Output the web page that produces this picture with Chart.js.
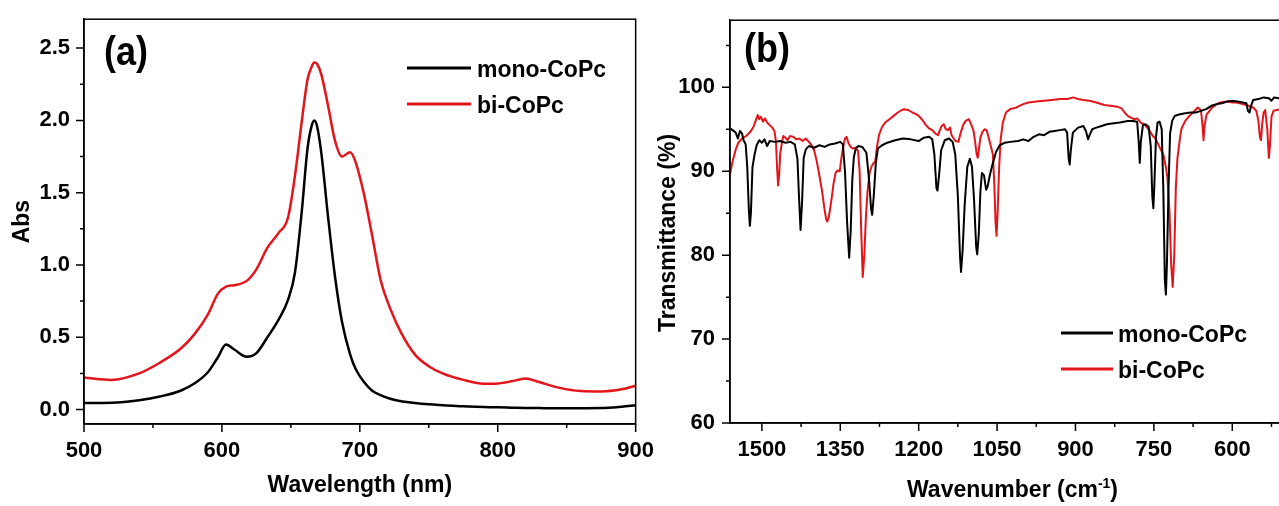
<!DOCTYPE html>
<html>
<head>
<meta charset="utf-8">
<title>mono-CoPc / bi-CoPc spectra</title>
<script src="https://cdn.jsdelivr.net/npm/chart.js"></script>
<style>
  html, body { margin: 0; padding: 0; background: #fff; overflow: hidden; }
  body { width: 1279px; height: 506px; position: relative; }
  #panelA { position: absolute; left: 0; top: 0; }
  #panelB { position: absolute; left: 645px; top: 0; }
</style>
</head>
<body>
<canvas id="panelA" width="660" height="506"></canvas>
<canvas id="panelB" width="680" height="506"></canvas>
<script>
const FONT = '"Liberation Sans", Arial, Helvetica, sans-serif';
const RED = '#e3151b';
const BLACK = '#000000';

// (a) UV-vis absorbance
const uvWavelength = [500, 520, 540, 555, 570, 580, 590, 597, 603, 609, 618, 625, 633, 641, 648, 653, 658, 662, 665, 667, 669, 672, 677, 682, 687, 693, 697, 703, 709, 715, 722, 730, 740, 750, 760, 775, 790, 800, 810, 820, 830, 845, 860, 875, 890, 900];
const uvMono = [0.045, 0.047, 0.065, 0.09, 0.13, 0.18, 0.26, 0.36, 0.45, 0.415, 0.365, 0.39, 0.50, 0.62, 0.76, 0.95, 1.38, 1.80, 1.96, 2.00, 1.96, 1.78, 1.33, 0.92, 0.61, 0.38, 0.28, 0.19, 0.13, 0.10, 0.075, 0.058, 0.045, 0.036, 0.030, 0.022, 0.018, 0.015, 0.013, 0.011, 0.010, 0.009, 0.009, 0.010, 0.020, 0.030];
const uvBi = [0.222, 0.205, 0.25, 0.324, 0.42, 0.52, 0.66, 0.80, 0.85, 0.86, 0.89, 0.97, 1.12, 1.22, 1.33, 1.62, 2.00, 2.28, 2.37, 2.40, 2.39, 2.32, 2.10, 1.86, 1.75, 1.78, 1.71, 1.49, 1.20, 0.90, 0.70, 0.53, 0.38, 0.30, 0.25, 0.205, 0.178, 0.18, 0.195, 0.215, 0.19, 0.15, 0.128, 0.125, 0.14, 0.165];

// (b) FTIR transmittance
const irMonoWavenumber = [1561, 1556, 1550, 1546, 1542, 1538, 1535, 1531, 1528, 1525, 1523, 1521, 1518, 1514, 1510, 1505, 1500, 1495, 1490, 1485, 1475, 1465, 1455, 1445, 1437, 1432, 1429, 1426, 1423, 1420, 1416, 1410, 1400, 1390, 1380, 1370, 1360, 1350, 1345, 1341, 1337, 1333, 1330, 1327, 1324, 1320, 1315, 1308, 1300, 1295, 1291, 1289, 1286, 1282, 1278, 1270, 1260, 1245, 1230, 1215, 1200, 1190, 1180, 1174, 1170, 1166, 1164, 1161, 1157, 1150, 1142, 1135, 1130, 1125, 1121, 1119, 1116, 1112, 1107, 1102, 1098, 1094, 1090, 1088, 1085, 1082, 1079, 1075, 1071, 1068, 1064, 1058, 1052, 1045, 1035, 1025, 1010, 1000, 990, 980, 970, 960, 950, 940, 930, 920, 916, 913, 911, 909, 905, 895, 885, 880, 876, 873, 868, 860, 850, 840, 830, 815, 800, 790, 782, 779, 777, 775, 771, 766, 760, 756, 753, 751, 749, 746, 743, 739, 735, 732, 729, 727, 725, 722, 719, 715, 710, 700, 690, 680, 670, 660, 650, 640, 630, 620, 610, 600, 590, 580, 573, 570, 567, 564, 560, 550, 540, 530, 525, 520, 510, 500, 490, 480];
const irMonoT = [95.1, 94.9, 94.6, 93.9, 94.8, 94.5, 93.7, 93.2, 90.5, 85.5, 83.5, 85.0, 90.5, 92.0, 93.1, 93.7, 93.4, 93.8, 93.0, 93.6, 93.5, 93.6, 93.4, 93.5, 93.2, 91.5, 87.0, 83.0, 86.5, 91.6, 92.6, 93.0, 92.8, 93.1, 92.9, 93.2, 93.3, 93.5, 93.2, 90.0, 84.0, 79.7, 83.0, 89.0, 91.7, 92.8, 93.0, 92.9, 92.2, 89.0, 85.5, 84.8, 87.0, 91.0, 92.7, 93.1, 93.4, 93.7, 93.9, 93.8, 93.6, 94.0, 94.1, 93.8, 92.0, 88.0, 87.7, 89.5, 92.5, 93.7, 93.9, 93.5, 92.0, 87.0, 80.0, 78.0, 80.5, 86.0, 90.5, 91.5, 90.5, 86.5, 81.0, 80.1, 82.5, 87.5, 89.8, 89.5, 87.8, 88.2, 89.5, 91.0, 92.3, 93.1, 93.4, 93.5, 93.6, 93.8, 93.6, 94.1, 94.4, 94.3, 94.7, 94.8, 94.9, 95.0, 94.6, 91.5, 90.8, 92.5, 94.6, 95.2, 95.4, 94.8, 93.8, 94.3, 95.0, 95.2, 95.4, 95.6, 95.7, 95.8, 96.0, 96.0, 95.9, 93.5, 91.0, 93.5, 95.5, 95.6, 95.3, 93.0, 87.0, 85.6, 88.5, 94.0, 95.8, 95.9, 95.0, 88.0, 77.0, 75.3, 79.0, 88.0, 94.5, 96.0, 96.6, 96.8, 96.9, 97.0, 97.0, 97.2, 97.4, 97.8, 98.0, 98.1, 98.3, 98.4, 98.3, 98.2, 98.1, 97.2, 97.0, 97.8, 98.5, 98.6, 98.8, 98.7, 98.4, 98.8, 98.7, 98.6, 98.8, 98.7];
const irBiWavenumber = [1561, 1556, 1550, 1545, 1538, 1530, 1522, 1516, 1512, 1508, 1505, 1502, 1498, 1494, 1490, 1485, 1480, 1476, 1473, 1471, 1469, 1467, 1465, 1462, 1459, 1455, 1451, 1446, 1440, 1434, 1428, 1422, 1416, 1410, 1405, 1400, 1395, 1390, 1385, 1380, 1377, 1375, 1372, 1369, 1366, 1363, 1359, 1355, 1351, 1348, 1345, 1341, 1338, 1334, 1330, 1326, 1320, 1316, 1313, 1310, 1307, 1304, 1301, 1298, 1294, 1290, 1286, 1283, 1280, 1276, 1270, 1264, 1256, 1248, 1240, 1232, 1228, 1220, 1212, 1205, 1200, 1194, 1186, 1180, 1174, 1168, 1163, 1160, 1156, 1152, 1148, 1144, 1140, 1137, 1133, 1129, 1124, 1120, 1115, 1110, 1104, 1099, 1095, 1092, 1089, 1087, 1085, 1082, 1078, 1074, 1070, 1066, 1062, 1058, 1055, 1053, 1051, 1049, 1046, 1043, 1039, 1033, 1025, 1013, 1000, 990, 975, 960, 945, 930, 915, 904, 895, 885, 873, 860, 845, 833, 820, 812, 806, 800, 794, 788, 782, 775, 767, 760, 752, 747, 740, 732, 727, 724, 720, 717, 714, 711, 708, 705, 700, 697, 690, 682, 675, 666, 660, 657, 655, 653, 649, 646, 640, 630, 623, 610, 600, 592, 580, 569, 560, 554, 550, 547, 545, 543, 540, 537, 533, 530, 528, 525, 521, 515, 507, 500, 490, 480];
const irBiT = [89.6, 91.2, 92.6, 93.4, 93.9, 94.2, 94.7, 95.3, 96.0, 96.7, 96.2, 96.5, 95.9, 96.3, 95.8, 95.5, 95.2, 94.8, 93.5, 90.5, 88.3, 89.5, 92.0, 93.3, 94.2, 94.0, 93.7, 94.2, 94.1, 93.8, 93.9, 93.6, 93.9, 93.5, 93.1, 92.5, 91.2, 89.5, 87.7, 85.4, 84.3, 84.0, 84.5, 85.7, 87.0, 88.5, 89.8, 90.1, 90.0, 91.5, 92.7, 93.9, 94.1, 93.3, 92.9, 92.7, 92.8, 92.4, 90.0, 83.0, 77.4, 80.0, 84.5, 87.5, 89.8, 90.6, 91.0, 91.2, 92.8, 94.3, 95.3, 95.8, 96.2, 96.6, 97.0, 97.3, 97.4, 97.3, 97.0, 96.8, 96.6, 96.2, 95.5, 95.1, 94.9, 94.5, 94.3, 94.8, 95.4, 95.6, 95.0, 94.9, 95.2, 94.3, 93.9, 93.6, 93.5, 94.5, 95.5, 96.0, 96.2, 95.5, 94.8, 93.5, 92.0, 91.6, 92.5, 94.0, 94.7, 95.0, 94.9, 94.0, 93.0, 92.0, 88.0, 84.0, 82.3, 85.0, 90.5, 93.9, 95.8, 97.0, 97.4, 97.6, 98.0, 98.2, 98.3, 98.4, 98.5, 98.6, 98.6, 98.8, 98.6, 98.5, 98.4, 98.2, 97.9, 97.8, 97.7, 97.5, 97.0, 96.6, 96.4, 96.2, 96.3, 95.8, 95.5, 95.0, 94.2, 93.9, 93.0, 92.0, 90.5, 89.2, 85.0, 79.0, 76.2, 80.0, 88.0, 91.5, 94.0, 95.1, 96.0, 96.6, 97.0, 97.6, 97.3, 95.5, 93.7, 95.5, 96.8, 97.0, 97.5, 98.0, 98.2, 98.3, 98.2, 98.2, 98.0, 97.8, 97.6, 97.2, 96.0, 94.0, 93.7, 95.5, 97.0, 97.3, 95.0, 91.6, 93.0, 96.5, 97.2, 97.3, 97.4, 97.6, 97.5, 97.6];

// minor tick positions
const uvMinorX = [550, 650, 750, 850];
const uvMinorY = [0.25, 0.75, 1.25, 1.75, 2.25];
const irMinorX = [1425, 1275, 1125, 975, 825, 675, 525];
const irMinorY = [65, 75, 85, 95, 105];

function pts(xs, ys) {
  return xs.map((x, i) => ({ x: x, y: ys[i] }));
}

Chart.defaults.color = '#000';
Chart.defaults.font.family = FONT;

const TITLE_FONT = 'bold 23px ' + FONT;
const SUP_FONT = 'bold 14px ' + FONT;
const MAJOR = 8, MINOR = 4;

// frame, outward ticks, legend, panel tag and axis titles
const panelDecor = {
  id: 'panelDecor',
  afterDraw(chart, args, o) {
    const ctx = chart.ctx;
    const a = chart.chartArea;
    const sx = chart.scales.x, sy = chart.scales.y;
    ctx.save();
    ctx.strokeStyle = '#000';
    ctx.lineWidth = 1.5;
    ctx.strokeRect(a.left, a.top, a.right - a.left, a.bottom - a.top);

    ctx.beginPath();
    const xTick = (v, len) => {
      const p = sx.getPixelForValue(v);
      ctx.moveTo(p, a.bottom);
      ctx.lineTo(p, a.bottom + len);
    };
    const yTick = (v, len) => {
      const p = sy.getPixelForValue(v);
      ctx.moveTo(a.left - len, p);
      ctx.lineTo(a.left, p);
    };
    sx.ticks.forEach(t => xTick(t.value, MAJOR));
    sy.ticks.forEach(t => yTick(t.value, MAJOR));
    o.minorX.forEach(v => xTick(v, MINOR));
    o.minorY.forEach(v => yTick(v, MINOR));
    ctx.stroke();

    // panel tag, slightly condensed
    ctx.fillStyle = '#000';
    ctx.textBaseline = 'alphabetic';
    ctx.textAlign = 'left';
    ctx.save();
    ctx.translate(o.tag.x, o.tag.y);
    ctx.scale(0.9, 1);
    ctx.font = 'bold 40px ' + FONT;
    ctx.fillText(o.tag.text, 0, 0);
    ctx.restore();

    // legend
    ctx.font = 'bold 23px ' + FONT;
    chart.data.datasets.forEach((ds, i) => {
      const ly = o.legend.y + i * o.legend.dy;
      ctx.strokeStyle = ds.borderColor;
      ctx.lineWidth = 3;
      ctx.beginPath();
      ctx.moveTo(o.legend.x0, ly);
      ctx.lineTo(o.legend.x1, ly);
      ctx.stroke();
      ctx.fillText(ds.label, o.legend.x1 + o.legend.gap, ly + 9);
    });

    // x title, pieces may be superscript
    const cx = (a.left + a.right) / 2;
    const widths = o.xTitle.parts.map(p => {
      ctx.font = p.sup ? SUP_FONT : TITLE_FONT;
      return ctx.measureText(p.t).width;
    });
    let xp = cx - widths.reduce((s, w) => s + w, 0) / 2;
    o.xTitle.parts.forEach((p, i) => {
      ctx.font = p.sup ? SUP_FONT : TITLE_FONT;
      ctx.fillText(p.t, xp, p.sup ? o.xTitle.y - 9 : o.xTitle.y);
      xp += widths[i];
    });

    // y title
    ctx.font = TITLE_FONT;
    ctx.translate(o.yTitle.x, o.yTitle.y == null ? (a.top + a.bottom) / 2 : o.yTitle.y);
    ctx.rotate(-Math.PI / 2);
    ctx.textAlign = 'center';
    ctx.textBaseline = 'middle';
    ctx.fillText(o.yTitle.text, 0, 0);
    ctx.restore();
  }
};

const tickFont = { family: FONT, size: 22, weight: 'bold' };
// tick marks are painted by panelDecor; the grid only reserves their length
const tickSpace = { drawOnChartArea: false, tickLength: MAJOR, tickColor: 'rgba(0,0,0,0)' };
const axisBorder = { color: '#000', width: 1.5 };

new Chart(document.getElementById('panelA'), {
  type: 'line',
  data: {
    datasets: [
      { label: 'mono-CoPc', data: pts(uvWavelength, uvMono), borderColor: BLACK, borderWidth: 2.5, cubicInterpolationMode: 'monotone' },
      { label: 'bi-CoPc', data: pts(uvWavelength, uvBi), borderColor: RED, borderWidth: 2.5, cubicInterpolationMode: 'monotone' }
    ]
  },
  options: {
    responsive: false,
    animation: false,
    devicePixelRatio: 1,
    layout: { padding: { top: 13, right: 21, bottom: 0, left: 0 } },
    elements: { point: { radius: 0 } },
    plugins: {
      legend: { display: false },
      tooltip: { enabled: false },
      panelDecor: {
        minorX: uvMinorX,
        minorY: uvMinorY,
        tag: { text: '(a)', x: 104, y: 65 },
        legend: { x0: 407, x1: 471, y: 68, dy: 36, gap: 6 },
        xTitle: { parts: [{ t: 'Wavelength (nm)' }], y: 492 },
        yTitle: { text: 'Abs', x: 23 }
      }
    },
    scales: {
      x: {
        type: 'linear', min: 500, max: 900,
        ticks: { stepSize: 100, padding: 6, font: tickFont, autoSkip: false, maxRotation: 0, includeBounds: false, callback: v => String(v) },
        grid: tickSpace, border: axisBorder,
        afterFit: s => { s.height = 82; }
      },
      y: {
        type: 'linear', min: -0.1, max: 2.7,
        ticks: { stepSize: 0.5, padding: 6, font: tickFont, includeBounds: false, callback: v => v.toFixed(1) },
        grid: tickSpace, border: axisBorder,
        afterFit: s => { s.width = 84; }
      }
    }
  },
  plugins: [panelDecor]
});

new Chart(document.getElementById('panelB'), {
  type: 'line',
  data: {
    datasets: [
      { label: 'mono-CoPc', data: pts(irMonoWavenumber, irMonoT), borderColor: BLACK, borderWidth: 2, tension: 0 },
      { label: 'bi-CoPc', data: pts(irBiWavenumber, irBiT), borderColor: RED, borderWidth: 2, tension: 0 }
    ]
  },
  options: {
    responsive: false,
    animation: false,
    devicePixelRatio: 1,
    layout: { padding: { top: 13, right: 30, bottom: 0, left: 0 } },
    elements: { point: { radius: 0 }, line: { borderJoinStyle: 'round' } },
    plugins: {
      legend: { display: false },
      tooltip: { enabled: false },
      panelDecor: {
        minorX: irMinorX,
        minorY: irMinorY,
        tag: { text: '(b)', x: 99, y: 62 },
        legend: { x0: 416, x1: 468, y: 333, dy: 36, gap: 5 },
        xTitle: { parts: [{ t: 'Wavenumber (cm' }, { t: '-1', sup: true }, { t: ')' }], y: 497 },
        yTitle: { text: 'Transmittance (%)', x: 24, y: 233 }
      }
    },
    scales: {
      x: {
        type: 'linear', min: 480, max: 1561, reverse: true,
        ticks: { stepSize: 150, padding: 6, font: tickFont, autoSkip: false, maxRotation: 0, includeBounds: false, callback: v => String(v) },
        grid: tickSpace, border: axisBorder,
        afterFit: s => { s.height = 83; }
      },
      y: {
        type: 'linear', min: 60, max: 108,
        ticks: { stepSize: 10, padding: 7, font: tickFont, includeBounds: false, callback: v => String(v) },
        grid: tickSpace, border: axisBorder,
        afterFit: s => { s.width = 85; }
      }
    }
  },
  plugins: [panelDecor]
});
</script>
</body>
</html>
